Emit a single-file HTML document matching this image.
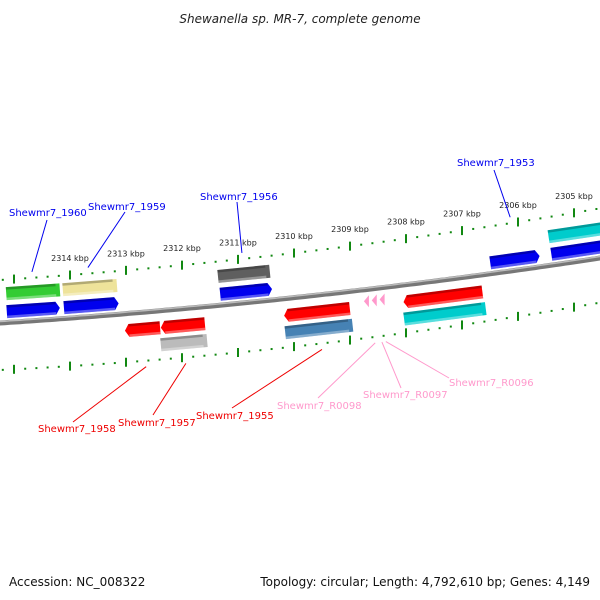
<!DOCTYPE html>
<html><head><meta charset="utf-8"><style>
body{margin:0;background:#fff}
svg{display:block;font-family:"DejaVu Sans","Liberation Sans",sans-serif}
</style></head><body>
<svg id="c" width="600" height="600" viewBox="0 0 600 600">
<text x="300" y="23" text-anchor="middle" font-size="12" font-style="italic" fill="#222">Shewanella sp. MR-7, complete genome</text>
<text x="9" y="586" font-size="12" fill="#111">Accession: NC_008322</text>
<text x="590" y="586" font-size="12" fill="#111" text-anchor="end">Topology: circular; Length: 4,792,610 bp; Genes: 4,149</text>
<g id="layer"></g>
</svg>
<script>
const tickKbp=[2314,2313,2312,2311,2310,2309,2308,2307,2306,2305];
const geneNames=["g1960a","g1960","g1959a","g1959","g1956a","g1956","g1953","g1953b","g1953c","g1958","g1957","g1957b","g1955","g1955b","gR","gCy"];
const geneStart=[2315.14,2315.13,2314.13,2314.11,2311.36,2311.32,2306.50,2305.46,2305.41,2313.02,2312.38,2312.38,2310.18,2310.16,2308.05,2308.04];
const geneEnd=[2314.18,2314.18,2313.16,2313.13,2310.43,2310.39,2305.61,2304.40,2304.40,2312.39,2311.59,2311.55,2309.00,2308.95,2306.63,2306.57];
const geneRow=[-2,-1,-2,-1,-2,-1,-1,-2,-1,1,1,2,1,2,1,2];
const geneDir=[0,1,0,1,0,1,1,0,1,-1,-1,0,-1,0,-1,0];
const geneColor=["#33cc33","#0000ee","#eee39a","#0000ee","#5f5f5f","#0000ee","#0000ee","#00cccc","#0000ee","#ff0000","#ff0000","#bbbbbb","#ff0000","#4682b4","#ff0000","#00cccc"];
const rnaKbp=[2308.68,2308.54,2308.40];
const labelText=["Shewmr7_1960","Shewmr7_1959","Shewmr7_1956","Shewmr7_1953","Shewmr7_1958","Shewmr7_1957","Shewmr7_1955","Shewmr7_R0098","Shewmr7_R0097","Shewmr7_R0096"];
const labelKbp=[2314.68,2313.68,2310.93,2306.14,2312.64,2311.93,2309.50,2308.55,2308.43,2308.36];
const labelSide=[-1,-1,-1,-1,1,1,1,1,1,1];
const labelColor=["#0000ee","#0000ee","#0000ee","#0000ee","#ee0000","#ee0000","#ee0000","#ff99cc","#ff99cc","#ff99cc"];
const labelX=[9,88,200,457,38,118,196,277,363,449];
const labelY=[216,210,200,166,432,426,419,409,398,386];
const leadX=[47,125,237,494,73,153,232,318,401,449];
const leadY=[220,212,202,170,422,415,408,398,388,378];

const NS="http://www.w3.org/2000/svg";
const L=document.getElementById('layer');
function X(k){return 70+(2314-k)*56;}
function Y(x){return 323-0.065*x-0.0000722*x*x;}
function YU(x){return 280-0.0651*x-0.0000905*x*x;}
function YL(x){return 370-0.0481*x-0.000107*x*x;}
function ang(x){return Math.atan(-0.065-0.0001444*x)*180/Math.PI;}
function mk(t,a){const e=document.createElementNS(NS,t);for(const k in a)e.setAttribute(k,a[k]);L.appendChild(e);return e;}
let d="";for(let x=-5;x<=605;x+=5){d+=(x==-5?"M":"L")+x+","+Y(x).toFixed(1);}
const bb=mk('path',{d:d,stroke:'#777',"stroke-width":5,fill:'none'});


const bb2=mk('path',{d:d,stroke:'#bbb',"stroke-width":1.5,fill:'none',transform:'translate(0,-1.5)'});


[YU,YL].forEach(function(fy){
  for(let k=2315.4;k>=2304.0;k-=0.2){
    const x=X(k);if(x<0||x>600)continue;
    const major=Math.abs(k-Math.round(k))<0.01;
    const y=fy(x);
    const t=mk('line',{x1:x,y1:y-(major?4.5:1),x2:x,y2:y+(major?4.5:1),stroke:'#118811',"stroke-width":2});
    
    
  }
});
tickKbp.forEach(function(k){
  const x=X(k);
  const t=mk('text',{x:x,y:YU(x)-14,"font-size":8,fill:'#222',"text-anchor":'middle'});
  t.textContent=k+" kbp";
  
  
});
const rowOff={"-2":-29,"-1":-11,"1":17,"2":34};
geneNames.forEach(function(n,i){
  let x1=X(geneStart[i]),x2=X(geneEnd[i]);
  const cx=(x1+x2)/2,cy=Y(cx)+rowOff[geneRow[i]],w=x2-x1,h=13,a=4;
  const l=cx-w/2,r=cx+w/2,t=cy-h/2,b=cy+h/2;
  let pts;
  if(geneDir[i]==1)pts=[[l,t],[r-a,t],[r,cy],[r-a,b],[l,b]];
  else if(geneDir[i]==-1)pts=[[l+a,t],[r,t],[r,b],[l+a,b],[l,cy]];
  else pts=[[l,t],[r,t],[r,b],[l,b]];
  const g=mk('g',{transform:'rotate('+ang(cx).toFixed(2)+' '+cx+' '+cy+')'});
  
  
  const p=document.createElementNS(NS,'polygon');
  p.setAttribute('points',pts.map(q=>q.join(',')).join(' '));
  p.setAttribute('fill',geneColor[i]);
  g.appendChild(p);
  const s=document.createElementNS(NS,'rect');
  s.setAttribute('x',l+(geneDir[i]==-1?a:0));s.setAttribute('y',t);s.setAttribute('width',w-a);s.setAttribute('height',2.5);
  s.setAttribute('fill','rgba(0,0,0,0.25)');g.appendChild(s);
  const s2=document.createElementNS(NS,'rect');
  s2.setAttribute('x',l+(geneDir[i]==-1?a:0));s2.setAttribute('y',b-2.5);s2.setAttribute('width',w-a);s2.setAttribute('height',2.5);
  s2.setAttribute('fill','rgba(255,255,255,0.35)');g.appendChild(s2);
});
rnaKbp.forEach(function(k){
  const x=X(k),y=Y(x)+12;
  const p=mk('polygon',{points:(x-4)+','+y+' '+(x+1)+','+(y-6)+' '+(x+1)+','+(y+6),fill:'#ff99cc'});
  
  
});
labelText.forEach(function(s,i){
  const gx=X(labelKbp[i]);
  const gy=labelSide[i]<0?YU(gx)-6:YL(gx)+6;
  const ln=mk('line',{x1:leadX[i],y1:leadY[i],x2:gx,y2:gy,stroke:labelColor[i],"stroke-width":1});
  
  
  const t=mk('text',{x:labelX[i],y:labelY[i],"font-size":10,fill:labelColor[i]});
  t.textContent=s;
  
  
});
</script>
</body></html>
